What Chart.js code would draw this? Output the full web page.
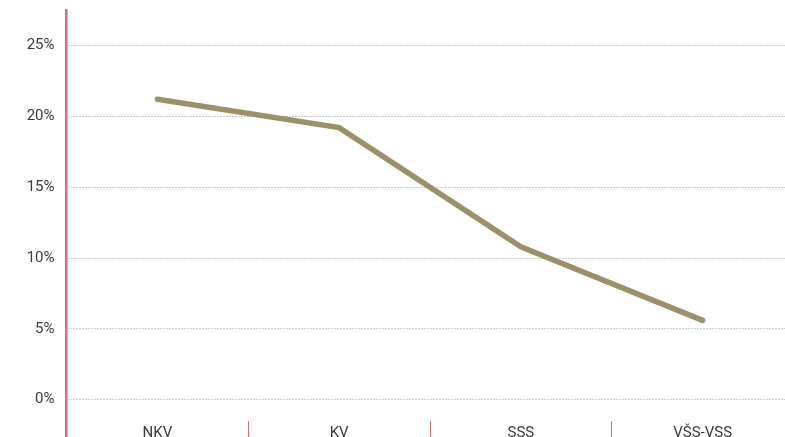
<!DOCTYPE html>
<html>
<head>
<meta charset="utf-8">
<script src="https://cdn.jsdelivr.net/npm/chart.js@4"></script>
<style>
html,body{margin:0;padding:0;overflow:hidden;background:#fff;}
#wrap{position:absolute;left:0;top:0;width:800px;height:460px;}
</style>
</head>
<body>
<div id="wrap"><canvas id="c"></canvas></div>
<script>
const categories = ['NKV', 'KV', 'SSS', 'VŠS-VSS'];
const values = [21.2, 19.2, 10.8, 5.6];
const yTickValues = [0, 5, 10, 15, 20, 25];

const RED = '#d46f70';
new Chart(document.getElementById('c'), {
  type: 'line',
  data: {
    labels: categories,
    datasets: [{
      data: values,
      borderColor: '#9b9068',
      borderWidth: 5.5,
      borderCapStyle: 'round',
      borderJoinStyle: 'miter',
      pointRadius: 0,
      pointHoverRadius: 0,
      tension: 0,
      fill: false
    }]
  },
  options: {
    responsive: true,
    maintainAspectRatio: false,
    animation: false,
    layout: { padding: { left: 0, top: 10, right: 6.5, bottom: 0 } },
    plugins: { legend: { display: false }, tooltip: { enabled: false } },
    scales: {
      x: {
        offset: true,
        border: { display: false },
        grid: {
          offset: true,
          drawOnChartArea: false,
          drawTicks: true,
          tickLength: 20,
          color: RED,
          lineWidth: (ctx) => ctx.index === 0 ? 2.5 : 1
        },
        ticks: {
          padding: -17,
          color: '#3a3a3a',
          font: { family: 'Roboto', size: 15 },
          maxRotation: 0
        },
        afterFit: (s) => { s.height = 39; s.paddingLeft = 0; s.paddingRight = 0; }
      },
      y: {
        min: -1.5,
        max: 27.5,
        grid: {
          drawTicks: false,
          color: '#9a9a9a',
          lineWidth: 1
        },
        border: { display: true, color: RED, width: 2.5, dash: [1, 2] },
        afterBuildTicks: (s) => { s.ticks = yTickValues.map(v => ({ value: v })); },
        afterFit: (s) => { s.width = 66.5; s.paddingTop = 0; s.paddingBottom = 0; },
        ticks: {
          padding: 12,
          color: '#3a3a3a',
          font: { family: 'Roboto', size: 15 },
          callback: (v) => v + '%'
        }
      }
    }
  }
});
</script>
</body>
</html>
